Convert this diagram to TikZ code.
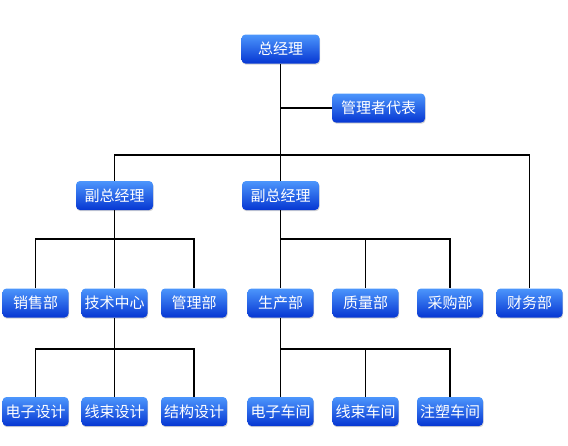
\documentclass[tikz,border=0pt]{standalone}
\usepackage{fontspec}
\newfontfamily\cjk{Noto Sans CJK SC}
\usepackage{xcolor}
\usetikzlibrary{shadows}
\definecolor{boxtop}{RGB}{76,150,252}
\definecolor{boxbot}{RGB}{6,54,210}

\begin{document}
\begin{tikzpicture}[x=1pt, y=-1pt,
  box/.style={rectangle, rounded corners=4pt, top color=boxtop, bottom color=boxbot,
    text=white, minimum width=66pt, minimum height=29pt, inner sep=2pt,
    font=\cjk\fontsize{15}{17}\selectfont,
    drop shadow={shadow xshift=0.6pt, shadow yshift=-1.2pt, opacity=0.35}},
  link/.style={line width=1.6pt, black}]
\useasboundingbox (0,0) rectangle (568,445);

% Top
\node[box, minimum width=78pt] (gm) at (280.5,49) {总经理};
\node[box, minimum width=93pt] (rep) at (378.5,108) {管理者代表};

% Deputies
\node[box, minimum width=77pt] (vp1) at (114.5,195.5) {副总经理};
\node[box, minimum width=77pt] (vp2) at (280.5,195.5) {副总经理};

% Departments
\foreach \name/\x/\word in {sales/35.5/销售部, tech/114.5/技术中心, admin/194/管理部,
    prod/280.5/生产部, qual/365.5/质量部, purch/450/采购部, fin/529.5/财务部} {
   \node[box] (\name) at (\x,303) {\word};
}

% Design groups and workshops
\foreach \name/\x/\word in {ed/35.5/电子设计, wd/114.5/线束设计, sd/194/结构设计,
    ew/280.5/电子车间, ww/365.5/线束车间, mw/450/注塑车间} {
   \node[box] (\name) at (\x,411.5) {\word};
}

% Connectors
\coordinate (bus1) at (0,155);
\coordinate (bus2) at (0,239);
\coordinate (bus3) at (0,349);
\draw[link] (gm) -- (vp2);
\draw[link] (gm |- rep) -- (rep);
\draw[link] (vp1) -- (vp1 |- bus1) -- (bus1 -| fin) -- (fin);

\draw[link] (vp1) -- (tech);
\draw[link] (sales) -- (sales |- bus2) -- (bus2 -| admin) -- (admin);
\draw[link] (vp2) -- (prod);
\draw[link] (prod |- bus2) -- (bus2 -| purch) -- (purch);
\draw[link] (qual |- bus2) -- (qual);

\draw[link] (tech) -- (wd);
\draw[link] (ed) -- (ed |- bus3) -- (bus3 -| sd) -- (sd);
\draw[link] (prod) -- (ew);
\draw[link] (ew |- bus3) -- (bus3 -| mw) -- (mw);
\draw[link] (ww |- bus3) -- (ww);
\end{tikzpicture}
\end{document}
